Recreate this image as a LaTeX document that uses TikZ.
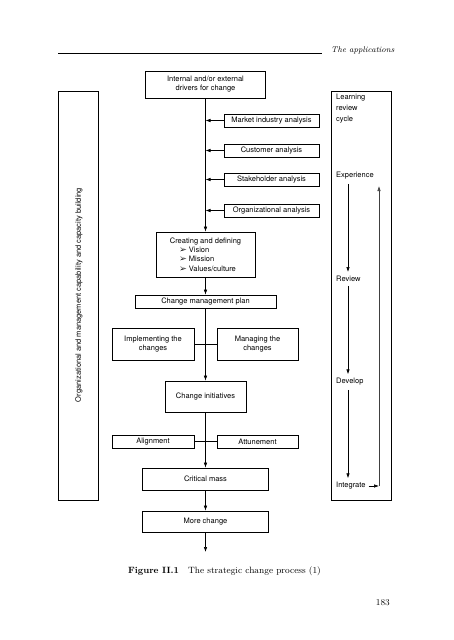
\documentclass[tikz,border=0pt]{standalone}
\usepackage{fontspec}
\usepackage{pifont}
\newfontfamily\hv{TeX Gyre Heros}
\usetikzlibrary{arrows.meta}
\begin{document}
\begin{tikzpicture}[x=1pt,y=-1pt,
  box/.style={draw,line width=0.7pt,inner sep=1pt,font=\hv\fontsize{7.5}{9}\selectfont,align=center},
  conn/.style={line width=0.6pt},
  arr/.style={line width=0.6pt,-{Latex[length=5pt,width=3.5pt]}},
  lbl/.style={inner sep=4pt,font=\hv\fontsize{7.5}{9}\selectfont,anchor=west}]
\useasboundingbox (0,0) rectangle (453,640);
% header
\coordinate (hl) at (58,53);
\coordinate (hr) at (322,53);
\draw[line width=0.6pt] (hl) -- (hr);
\node[anchor=base west,inner sep=0pt,font=\fontsize{8.2}{10}\selectfont\itshape] (head) at (331,52) {The applications};
% side boxes
\node[box,minimum width=40,minimum height=409] (org) at (78,295.5) {};
\node[rotate=90,inner sep=0pt,font=\hv\fontsize{7.5}{9}\selectfont] (orgt) at (79,295) {Organizational and management capability and capacity building};
\node[box,minimum width=60,minimum height=409] (lrc) at (361,295.5) {};
\node[anchor=north west,inner sep=0pt,align=left,font=\hv\fontsize{7.5}{11}\selectfont] (lrct) at (336,94) {Learning\\review\\cycle};
% main column
\node[box,minimum width=120,minimum height=27] (drv) at (205.5,84.5) {Internal and/or external\\drivers for change};
\node[box,minimum width=95,minimum height=13] (mkt) at (271.5,120.5) {Market industry analysis};
\node[box,minimum width=95,minimum height=13] (cus) at (271.5,150.5) {Customer analysis};
\node[box,minimum width=95,minimum height=13] (stk) at (271.5,179.5) {Stakeholder analysis};
\node[box,minimum width=95,minimum height=13] (ora) at (271.5,210.5) {Organizational analysis};
\node[box,minimum width=99,minimum height=45,align=left,font=\hv\fontsize{7.5}{9.3}\selectfont] (crt) at (205.5,254.5)
  {Creating and defining\\
   \hspace*{10pt}\ding{226} Vision\\
   \hspace*{10pt}\ding{226} Mission\\
   \hspace*{10pt}\ding{226} Values/culture};
\node[box,minimum width=141,minimum height=13] (cmp) at (205.5,301.5) {Change management plan};
\node[box,minimum width=82,minimum height=32] (imp) at (153,344) {Implementing the\\changes};
\node[box,minimum width=81,minimum height=32] (man) at (257.5,344) {Managing the\\changes};
\node[box,minimum width=81,minimum height=31] (ci) at (205.5,396.5) {Change initiatives};
\node[box,minimum width=82,minimum height=13] (ali) at (153,441.5) {Alignment};
\node[box,minimum width=81,minimum height=13] (att) at (257.5,441.5) {Attunement};
\node[box,minimum width=126,minimum height=22] (crm) at (205.5,479) {Critical mass};
\node[box,minimum width=126,minimum height=21] (mor) at (205.5,521.5) {More change};
\coordinate (end) at (205.5,552);
% connectors
\draw[arr] (drv.south) -- (crt.north);
\foreach \n in {mkt,cus,stk,ora} \draw[arr] (\n.west) -- (\n.west -| drv.south);
\draw[arr] (crt.south) -- (cmp.north);
\draw[arr] (cmp.south) -- (ci.north);
\draw[conn] (imp.east) -- (man.west);
\draw[arr] (ci.south) -- (crm.north);
\draw[conn] (ali.east) -- (att.west);
\draw[arr] (crm.south) -- (mor.north);
\draw[arr] (mor.south) -- (end);
% learning cycle
\node[lbl] (exp) at (332,176) {Experience};
\node[lbl] (rev) at (332,279) {Review};
\node[lbl] (dev) at (332,382) {Develop};
\node[lbl] (int) at (332,486) {Integrate};
\coordinate (ax) at (348,0);
\coordinate (ux) at (379,486);
\coordinate (ut) at (379,186);
\draw[arr] (exp.south -| ax) -- (rev.north -| ax);
\draw[arr] (rev.south -| ax) -- (dev.north -| ax);
\draw[arr] (dev.south -| ax) -- (int.north -| ax);
\draw[conn,-{Latex[length=5pt,width=3.5pt]}] ([xshift=-1pt]int.east) -- (ux);
\draw[line width=0.6pt,black!75,-{Latex[length=5pt,width=3.5pt]}] (ux) -- (ut);
% caption
\node[anchor=base,inner sep=0pt,font=\fontsize{9.1}{11}\selectfont] (cap) at (224.5,573) {\textbf{Figure II.1}\quad The strategic change process (1)};
\node[anchor=base east,inner sep=0pt,font=\fontsize{9}{11}\selectfont] (pg) at (390,605) {183};
\end{tikzpicture}
\end{document}
